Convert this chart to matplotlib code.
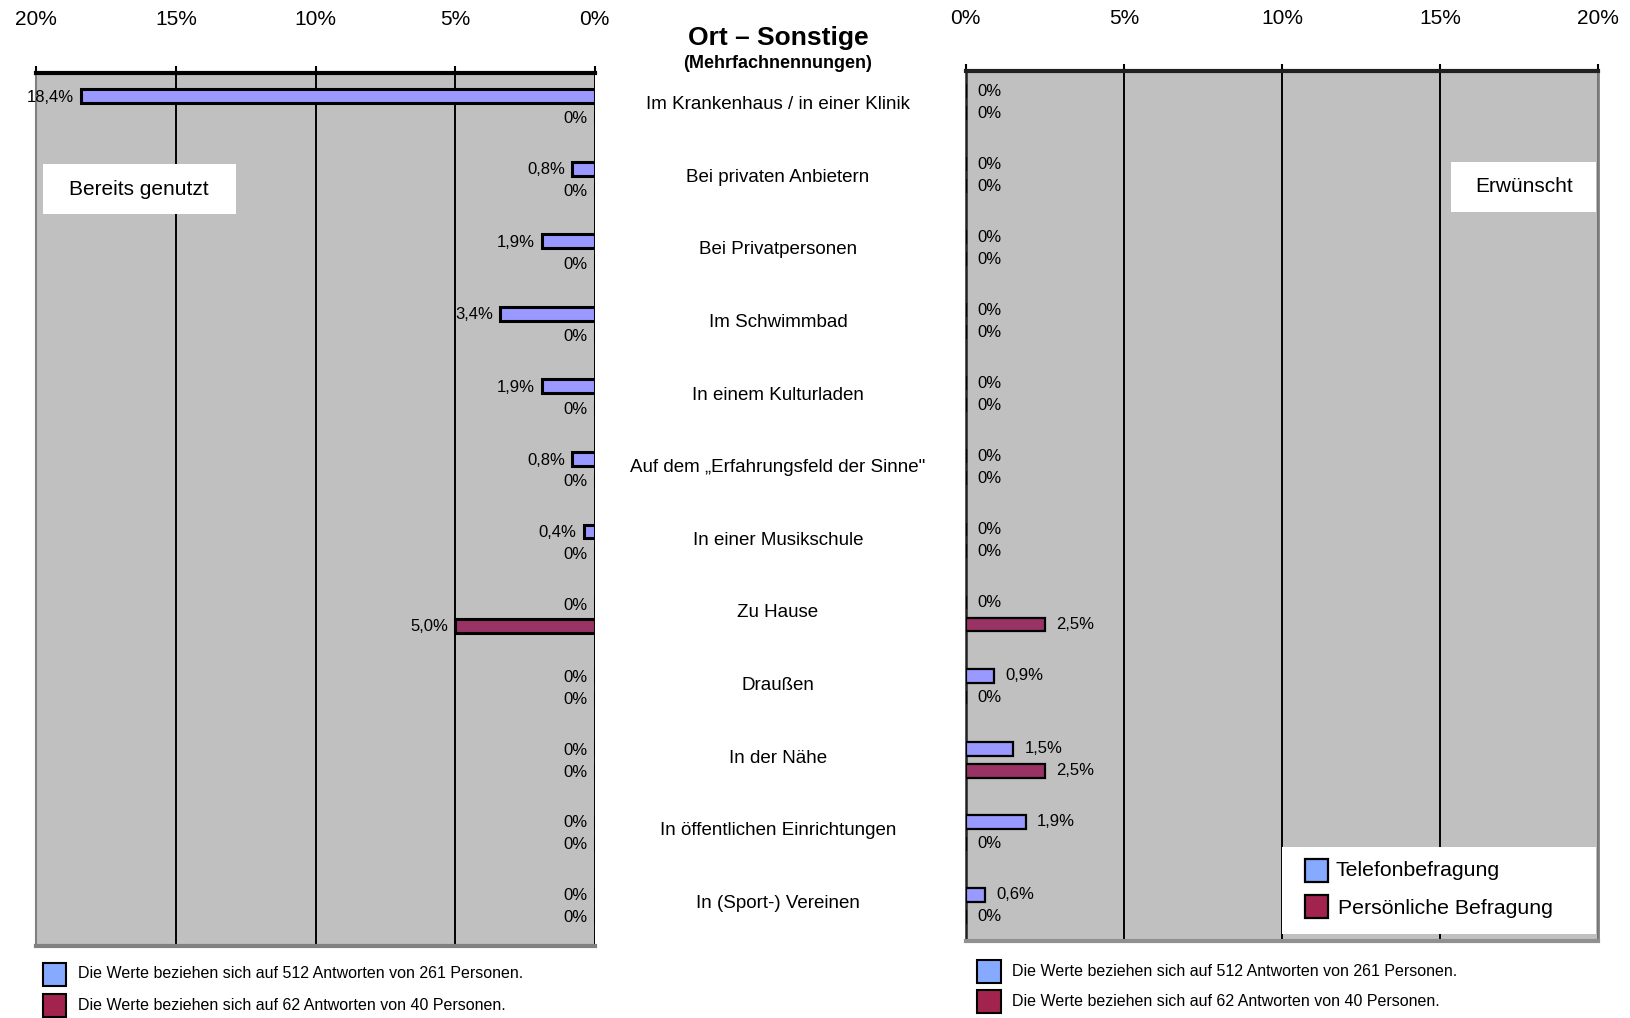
import numpy as np
import matplotlib
matplotlib.use("Agg")
import matplotlib.pyplot as plt
from matplotlib.patches import Rectangle
from matplotlib import transforms

plt.rcParams['font.family'] = ['Liberation Sans', 'DejaVu Sans']

categories = [
    "Im Krankenhaus / in einer Klinik",
    "Bei privaten Anbietern",
    "Bei Privatpersonen",
    "Im Schwimmbad",
    "In einem Kulturladen",
    "Auf dem \u201eErfahrungsfeld der Sinne\"",
    "In einer Musikschule",
    "Zu Hause",
    "Drau\u00dfen",
    "In der N\u00e4he",
    "In \u00f6ffentlichen Einrichtungen",
    "In (Sport-) Vereinen",
]

# bereits genutzt
used_tel = [18.4, 0.8, 1.9, 3.4, 1.9, 0.8, 0.4, 0, 0, 0, 0, 0]
used_pers = [0, 0, 0, 0, 0, 0, 0, 5.0, 0, 0, 0, 0]
# erwuenscht
wish_tel = [0, 0, 0, 0, 0, 0, 0, 0, 0.9, 1.5, 1.9, 0.6]
wish_pers = [0, 0, 0, 0, 0, 0, 0, 2.5, 0, 2.5, 0, 0]

xticks = [0, 5, 10, 15, 20]
tick_labels = ["0%", "5%", "10%", "15%", "20%"]

col_tel = "#9999ff"
col_pers = "#993366"
leg_tel = "#85aaff"
leg_pers = "#a3234f"
bg = "#c0c0c0"

W, H = 1630, 1018
fig = plt.figure(figsize=(W / 100, H / 100), dpi=100)


def px_axes(x0, y0, x1, y1):
    return fig.add_axes([x0 / W, 1 - y1 / H, (x1 - x0) / W, (y1 - y0) / H])


def fmt(v):
    if v == 0:
        return "0%"
    return f"{v:.1f}".replace(".", ",") + "%"


y = np.arange(len(categories))
off = 0.15
bh = 0.19


def panel(ax, tel, pers, side, lw, ylim, pad):
    ax.set_facecolor(bg)
    ax.barh(y - off, tel, height=bh, color=col_tel, edgecolor="black", linewidth=lw, zorder=3)
    ax.barh(y + off, pers, height=bh, color=col_pers, edgecolor="black", linewidth=lw, zorder=3)
    ax.set_ylim(*ylim)
    ax.set_yticks([])
    ax.set_xticks(xticks)
    ax.set_xticklabels(tick_labels, fontsize=15)
    ax.xaxis.tick_top()
    ax.tick_params(axis="x", length=5, width=1.5, pad=pad)
    ax.grid(axis="x", color="black", linewidth=1.4)
    ax.set_axisbelow(True)
    if side == "left":
        ax.set_xlim(20, 0)
        dx, ha, lo = -5, "right", 0.015
    else:
        ax.set_xlim(0, 20)
        dx, ha, lo = 8, "left", 0.0
    for vals, sign in ((tel, -1), (pers, 1)):
        for yi, v in zip(y, vals):
            ax.annotate(fmt(v), (v, yi + sign * off + lo), xytext=(dx, 0), textcoords="offset points",
                        ha=ha, va="center", fontsize=12, zorder=4)


axL = px_axes(36.4, 72.8, 594.7, 946)
panel(axL, used_tel, used_pers, "left", 2.2, (11.56, -0.47), 26.3)
axL.spines["top"].set_linewidth(3)
axL.spines["top"].set_color("black")
axL.spines["left"].set_color("#808080")
axL.spines["left"].set_linewidth(1.5)
axL.spines["bottom"].set_color("#808080")
axL.spines["bottom"].set_linewidth(3)
axL.spines["right"].set_visible(False)

axR = px_axes(965.8, 70.7, 1598, 940.8)
panel(axR, wish_tel, wish_pers, "right", 1.6, (11.48, -0.43), 25.5)
axR.spines["top"].set_linewidth(3)
axR.spines["top"].set_color("#202020")
axR.spines["left"].set_color("#202020")
axR.spines["left"].set_linewidth(1.8)
axR.spines["right"].set_color("#808080")
axR.spines["right"].set_linewidth(2)
axR.spines["bottom"].set_color("#909090")
axR.spines["bottom"].set_linewidth(3)

# title and category names in the middle
fig.text(778 / W, 1 - 38 / H, "Ort \u2013 Sonstige", ha="center", va="center", fontsize=19, fontweight="bold")
fig.text(778 / W, 1 - 63 / H, "(Mehrfachnennungen)", ha="center", va="center", fontsize=13, fontweight="bold")
trans = transforms.blended_transform_factory(fig.transFigure, axL.transData)
for yi, name in zip(y, categories):
    fig.text(778 / W, yi - 0.03, name, transform=trans, ha="center", va="center", fontsize=13.5)


def px_rect(x0, y0, x1, y1, fc, ec="none", lw=0, z=5):
    r = Rectangle((x0 / W, 1 - y1 / H), (x1 - x0) / W, (y1 - y0) / H, transform=fig.transFigure,
                  facecolor=fc, edgecolor=ec, linewidth=lw, zorder=z)
    fig.patches.append(r)


# panel captions
px_rect(42.6, 164, 236, 214, "white")
fig.text(139 / W, 1 - 189 / H, "Bereits genutzt", ha="center", va="center", fontsize=15, zorder=6)
px_rect(1451, 162, 1596, 212, "white")
fig.text(1524 / W, 1 - 187 / H, "Erw\u00fcnscht", ha="center", va="center", fontsize=15, zorder=6)

# legend
px_rect(1282, 847, 1596, 934, "white")
px_rect(1305, 859, 1328, 882, leg_tel, "black", 1.6, 6)
px_rect(1305, 895, 1328, 918, leg_pers, "black", 1.6, 6)
fig.text(1336 / W, 1 - 871 / H, "Telefonbefragung", ha="left", va="center", fontsize=15.3, zorder=6)
fig.text(1338 / W, 1 - 908 / H, "Pers\u00f6nliche Befragung", ha="left", va="center", fontsize=15.3, zorder=6)

# notes on sample sizes
notes = ["Die Werte beziehen sich auf 512 Antworten von 261 Personen.",
         "Die Werte beziehen sich auf 62 Antworten von 40 Personen."]
for px, ty in ((42.6, (974, 1005)), (977, (971, 1001))):
    for t, note, c in zip(ty, notes, (leg_tel, leg_pers)):
        px_rect(px, t - 11.5, px + 23.5, t + 11.5, c, "black", 1.5, 6)
        fig.text((px + 35.5) / W, 1 - t / H, note, ha="left", va="center", fontsize=11.5)

fig.savefig("out.png", dpi=100, facecolor="white")
